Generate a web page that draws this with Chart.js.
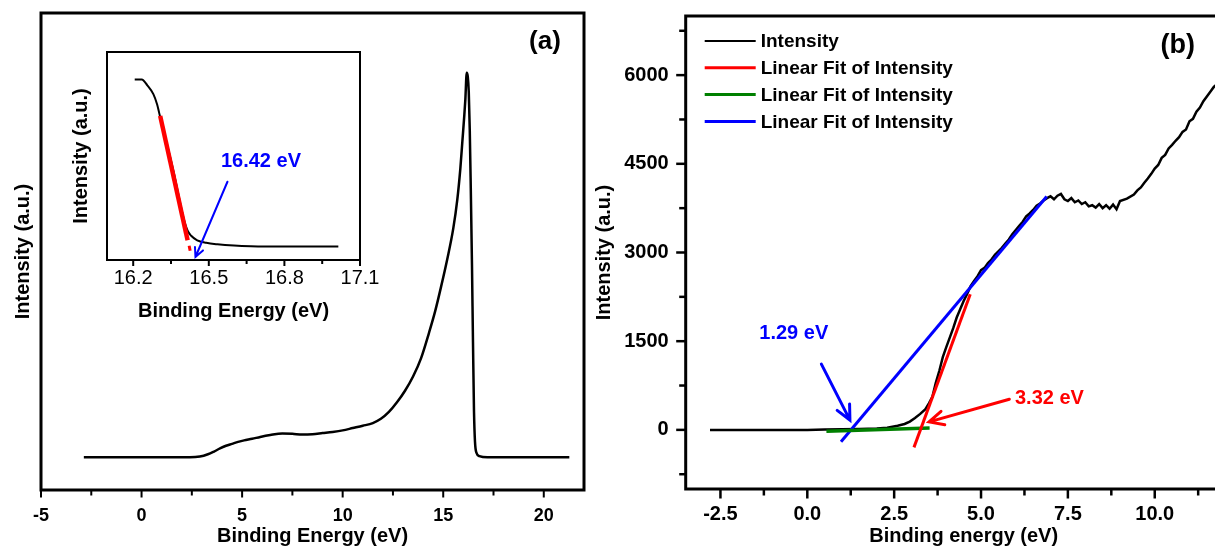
<!DOCTYPE html>
<html lang="en">
<head>
<meta charset="UTF-8">
<title>UPS spectra</title>
<script src="https://cdn.jsdelivr.net/npm/chart.js"></script>
<style>
  html, body { margin: 0; padding: 0; background: #fff; overflow: hidden; }
  #page { position: relative; width: 1215px; height: 548px; overflow: hidden; background: #fff; }
  canvas { position: absolute; }
</style>
</head>
<body>
<div id="page">
  <canvas id="chartA" width="600" height="548" style="left:0;top:0"></canvas>
  <canvas id="chartB" width="675" height="548" style="left:585px;top:0"></canvas>
  <canvas id="inset" width="320" height="285" style="left:60px;top:40px"></canvas>
</div>
<script>
// ---- panel (a): full spectrum ----
const aEnergy = [-2.87, -1, 1, 2.4, 2.9, 3.3, 3.6, 3.9, 4.2, 4.5, 4.8, 5.1, 5.5, 5.9, 6.4, 7.0, 7.5, 8.0, 8.5, 9.0, 9.5, 10.0,
  10.5, 11.0, 11.5, 11.9, 12.3, 12.7, 13.1, 13.5, 13.9, 14.3, 14.6, 14.9, 15.2, 15.5, 15.7, 15.85, 15.95, 16.05, 16.1,
  16.17, 16.22, 16.27, 16.32, 16.37, 16.43, 16.48, 16.53, 16.58, 16.65, 16.8, 17.2, 19, 21.27];
const aIntensity = [0, 0, 0, 0, 0.2, 0.8, 1.5, 2.3, 3.0, 3.5, 4.0, 4.4, 4.8, 5.3, 5.8, 6.2, 6.1, 5.9, 6.0, 6.3, 6.6, 7.0,
  7.6, 8.2, 8.9, 10.0, 11.8, 14.3, 17.3, 21.0, 25.8, 32.5, 38, 44.5, 51.5, 59.5, 67, 75, 82, 89, 93,
  100, 99, 95, 85, 70, 50, 30, 12, 4, 1.2, 0.3, 0, 0, 0];
const aMajorX = [-5, 0, 5, 10, 15, 20];
const aMinorX = [-2.5, 2.5, 7.5, 12.5, 17.5];

// ---- inset: cut-off edge ----
const insetEnergy = [16.206, 16.234, 16.256, 16.28, 16.295, 16.303, 16.36, 16.40, 16.416, 16.43, 16.454, 16.49, 16.534, 16.6, 16.667, 16.8, 17.014];
const insetIntensity = [100, 100, 96.5, 91.2, 85, 80, 45, 17, 9.5, 6.5, 3.8, 2.3, 1.4, 0.6, 0.2, 0, 0];
const insetFitEnergy = [16.307, 16.416];
const insetFitIntensity = [78.2, 3.8];
const insetDotEnergy = [16.422, 16.426];
const insetDotIntensity = [0.5, -2.5];
const insetMajorX = [16.2, 16.5, 16.8, 17.1];
const insetMinorX = [16.35, 16.65, 16.95];

// ---- panel (b): valence band ----
const bEnergy = [-2.8, -2, -1, 0, 0.5, 1, 1.5, 2, 2.3, 2.6, 2.8, 2.95, 3.1, 3.25, 3.4, 3.5, 3.6, 3.7, 3.8, 3.9,
  4.0, 4.1, 4.2, 4.3, 4.4, 4.5, 4.6, 4.7, 4.8, 4.9, 5.0, 5.1, 5.2, 5.3, 5.4, 5.5, 5.6, 5.7, 5.8, 5.9,
  6.0, 6.1, 6.2, 6.3, 6.4, 6.5, 6.6, 6.7, 6.8, 6.9, 7.0, 7.1, 7.2, 7.3, 7.4, 7.5, 7.6, 7.7, 7.8, 7.9,
  8.0, 8.1, 8.2, 8.3, 8.4, 8.5, 8.6, 8.7, 8.8, 8.9, 9.0, 9.2, 9.4, 9.5, 9.6, 9.7, 9.8, 9.9,
  10.0, 10.1, 10.2, 10.3, 10.4, 10.5, 10.6, 10.7, 10.8, 10.9, 11.0, 11.1, 11.2, 11.3, 11.4, 11.5, 11.6, 11.7, 11.8, 12.0];
const bIntensity = [0, 0, 0, 0, 5, 10, 15, 25, 35, 70, 100, 140, 200, 270, 350, 450, 560, 800, 1000, 1230,
  1400, 1560, 1720, 1900, 2040, 2180, 2300, 2430, 2520, 2600, 2700, 2740, 2820, 2880, 2960, 3020, 3080, 3150, 3220, 3310,
  3380, 3450, 3520, 3610, 3660, 3720, 3790, 3830, 3880, 3920, 3950, 3900, 3960, 3990, 3900, 3870, 3920, 3850, 3880, 3820,
  3850, 3780, 3800, 3760, 3820, 3750, 3800, 3740, 3810, 3730, 3870, 3910, 3980, 4050, 4100, 4180, 4250, 4330,
  4420, 4480, 4600, 4650, 4760, 4820, 4890, 4950, 5040, 5080, 5220, 5260, 5380, 5450, 5560, 5640, 5720, 5800, 5850, 5950];
const redFitEnergy = [3.07, 4.69];
const redFitIntensity = [-296, 2293];
const greenFitEnergy = [0.55, 3.52];
const greenFitIntensity = [-25, 32];
const blueFitEnergy = [0.97, 6.89];
const blueFitIntensity = [-201, 3948];
const bMajorX = [-2.5, 0, 2.5, 5, 7.5, 10, 12.5];
const bMinorX = [-1.25, 1.25, 3.75, 6.25, 8.75, 11.25];
const bMajorY = [0, 1500, 3000, 4500, 6000];
const bMinorY = [-750, 750, 2250, 3750, 5250, 6750];
const legendLabels = ['Intensity', 'Linear Fit of Intensity', 'Linear Fit of Intensity', 'Linear Fit of Intensity'];
const legendColors = ['#000000', '#ff0000', '#008000', '#0000ff'];

const FONT = '"Liberation Sans", Arial, sans-serif';
Chart.defaults.font.family = FONT;
Chart.defaults.color = '#000';

function toPoints(xs, ys) {
  return xs.map((x, i) => ({ x: x, y: ys[i] }));
}
function isIn(list, v) {
  return list.some(m => Math.abs(m - v) < 1e-6);
}
function mergeTicks(major, minor) {
  return major.concat(minor).sort((p, q) => p - q).map(v => ({ value: v }));
}
// fixed axis size, no label overhang padding
function fixW(w) {
  return s => { s.width = w; s.paddingTop = 0; s.paddingBottom = 0; s.paddingLeft = 0; s.paddingRight = 0; };
}
function fixH(h) {
  return s => { s.height = h; s.paddingTop = 0; s.paddingBottom = 0; s.paddingLeft = 0; s.paddingRight = 0; };
}

function arrow(ctx, x1, y1, x2, y2, color, lw, head) {
  const ang = Math.atan2(y2 - y1, x2 - x1);
  ctx.strokeStyle = color;
  ctx.lineWidth = lw;
  ctx.lineCap = 'round';
  ctx.beginPath();
  ctx.moveTo(x1, y1);
  ctx.lineTo(x2, y2);
  ctx.moveTo(x2 - head * Math.cos(ang - 0.45), y2 - head * Math.sin(ang - 0.45));
  ctx.lineTo(x2, y2);
  ctx.lineTo(x2 - head * Math.cos(ang + 0.45), y2 - head * Math.sin(ang + 0.45));
  ctx.stroke();
}

// frame box, outward tick marks, arrows and labels
function decor(cfg) {
  return {
    id: 'decor',
    afterDraw(chart) {
      const { ctx, chartArea: a } = chart;
      const sx = chart.scales.x, sy = chart.scales.y;
      ctx.save();
      ctx.strokeStyle = '#000';
      ctx.lineWidth = cfg.tickWidth;
      sx.ticks.forEach(t => {
        const px = sx.getPixelForValue(t.value);
        const len = t.label !== '' ? cfg.majorLen : cfg.minorLen;
        ctx.beginPath();
        ctx.moveTo(px, a.bottom);
        ctx.lineTo(px, a.bottom + cfg.frame / 2 + len);
        ctx.stroke();
      });
      if (cfg.yTicks) {
        sy.ticks.forEach(t => {
          const py = sy.getPixelForValue(t.value);
          const len = t.label !== '' ? cfg.majorLen : cfg.minorLen;
          ctx.beginPath();
          ctx.moveTo(a.left, py);
          ctx.lineTo(a.left - cfg.frame / 2 - len, py);
          ctx.stroke();
        });
      }
      ctx.lineWidth = cfg.frame;
      ctx.lineCap = 'square';
      ctx.strokeRect(a.left, a.top, a.right - a.left, a.bottom - a.top);

      (cfg.arrows || []).forEach(r => {
        arrow(ctx, sx.getPixelForValue(r.x1), sy.getPixelForValue(r.y1),
          sx.getPixelForValue(r.x2), sy.getPixelForValue(r.y2), r.color, r.width, r.head);
      });
      ctx.textAlign = 'center';
      ctx.textBaseline = 'middle';
      (cfg.notes || []).forEach(n => {
        ctx.fillStyle = n.color;
        ctx.font = n.font;
        ctx.fillText(n.text, sx.getPixelForValue(n.x), sy.getPixelForValue(n.y));
      });
      (cfg.tags || []).forEach(n => {
        ctx.fillStyle = '#000';
        ctx.font = n.font;
        ctx.fillText(n.text, n.right ? a.right - n.dx : a.left + n.dx, a.top + n.dy);
      });
      if (cfg.legend) {
        ctx.textAlign = 'left';
        ctx.font = 'bold 19px ' + FONT;
        legendLabels.forEach((lab, i) => {
          const y = a.top + 25 + i * 26.8;
          ctx.strokeStyle = legendColors[i];
          ctx.lineWidth = i === 0 ? 2 : 3;
          ctx.lineCap = 'butt';
          ctx.beginPath();
          ctx.moveTo(a.left + 19, y);
          ctx.lineTo(a.left + 70, y);
          ctx.stroke();
          ctx.fillStyle = '#000';
          ctx.fillText(lab, a.left + 75, y + 1);
        });
      }
      ctx.restore();
    }
  };
}

const noGrid = { display: false, drawTicks: false };

// ---------- panel (a) ----------
new Chart(document.getElementById('chartA'), {
  type: 'line',
  data: {
    datasets: [{
      data: toPoints(aEnergy, aIntensity),
      borderColor: '#000', borderWidth: 2.5, pointRadius: 0,
      cubicInterpolationMode: 'monotone'
    }]
  },
  options: {
    responsive: false, animation: false, events: [],
    layout: { padding: { left: 0, top: 13, right: 16, bottom: 0 } },
    plugins: { legend: { display: false }, tooltip: { enabled: false } },
    scales: {
      x: {
        type: 'linear', min: -5, max: 22,
        grid: noGrid, border: { display: false },
        afterBuildTicks: s => { s.ticks = mergeTicks(aMajorX, aMinorX); },
        afterFit: fixH(58),
        ticks: {
          autoSkip: false, maxRotation: 0, padding: 15,
          font: { size: 18, weight: 'bold' },
          callback: v => isIn(aMajorX, v) ? String(v) : ''
        },
        title: { display: true, text: 'Binding Energy (eV)', font: { size: 20, weight: 'bold' }, padding: { top: 0, bottom: 0 } }
      },
      y: {
        type: 'linear', min: -8.5, max: 115.5,
        grid: noGrid, border: { display: false },
        ticks: { display: false },
        afterFit: fixW(41),
        title: { display: true, text: 'Intensity (a.u.)', font: { size: 20, weight: 'bold' }, padding: { top: 11, bottom: 0 } }
      }
    }
  },
  plugins: [decor({
    frame: 3, tickWidth: 2, majorLen: 6, minorLen: 4, yTicks: false,
    tags: [{ text: '(a)', font: 'bold 26px ' + FONT, right: true, dx: 39, dy: 29 }]
  })]
});

// ---------- inset ----------
new Chart(document.getElementById('inset'), {
  type: 'line',
  data: {
    datasets: [
      { data: toPoints(insetFitEnergy, insetFitIntensity), borderColor: '#ff0000', borderWidth: 4.5, pointRadius: 0 },
      { data: toPoints(insetDotEnergy, insetDotIntensity), borderColor: '#ff0000', borderWidth: 3, pointRadius: 0 },
      { data: toPoints(insetEnergy, insetIntensity), borderColor: '#000', borderWidth: 2, pointRadius: 0,
        cubicInterpolationMode: 'monotone', order: 5 }
    ]
  },
  options: {
    responsive: false, animation: false, events: [],
    layout: { padding: { left: 0, top: 12, right: 20, bottom: 0 } },
    plugins: { legend: { display: false }, tooltip: { enabled: false } },
    scales: {
      x: {
        type: 'linear', min: 16.096, max: 17.1,
        grid: noGrid, border: { display: false },
        afterBuildTicks: s => { s.ticks = mergeTicks(insetMajorX, insetMinorX); },
        afterFit: fixH(65),
        ticks: {
          autoSkip: false, maxRotation: 0, padding: 6,
          font: { size: 20 },
          callback: v => isIn(insetMajorX, v) ? v.toFixed(1) : ''
        },
        title: { display: true, text: 'Binding Energy (eV)', font: { size: 20, weight: 'bold' }, padding: { top: 0, bottom: 2 } }
      },
      y: {
        type: 'linear', min: -8, max: 116.4,
        grid: noGrid, border: { display: false },
        ticks: { display: false },
        afterFit: fixW(47),
        title: { display: true, text: 'Intensity (a.u.)', font: { size: 20, weight: 'bold' }, padding: { top: 9.5, bottom: 0 } }
      }
    }
  },
  plugins: [decor({
    frame: 2, tickWidth: 2, majorLen: 5, minorLen: 3, yTicks: false,
    arrows: [{ x1: 16.574, y1: 38.8, x2: 16.447, y2: -6.2, color: '#0000ff', width: 2, head: 10 }],
    notes: [{ text: '16.42 eV', x: 16.707, y: 50.8, color: '#0000ff', font: 'bold 20px ' + FONT }]
  })]
});

// ---------- panel (b) ----------
new Chart(document.getElementById('chartB'), {
  type: 'line',
  data: {
    datasets: [
      { label: legendLabels[0], data: toPoints(bEnergy, bIntensity), borderColor: '#000', borderWidth: 2.5,
        pointRadius: 0, order: 5 },
      { label: legendLabels[1], data: toPoints(redFitEnergy, redFitIntensity), borderColor: '#ff0000', borderWidth: 3, pointRadius: 0 },
      { label: legendLabels[2], data: toPoints(greenFitEnergy, greenFitIntensity), borderColor: '#008000', borderWidth: 3.5, pointRadius: 0 },
      { label: legendLabels[3], data: toPoints(blueFitEnergy, blueFitIntensity), borderColor: '#0000ff', borderWidth: 3, pointRadius: 0 }
    ]
  },
  options: {
    responsive: false, animation: false, events: [],
    layout: { padding: { left: 0, top: 16, right: 18.4, bottom: 0 } },
    plugins: { legend: { display: false }, tooltip: { enabled: false } },
    scales: {
      x: {
        type: 'linear', min: -3.5, max: 12.5,
        grid: noGrid, border: { display: false },
        afterBuildTicks: s => { s.ticks = mergeTicks(bMajorX, bMinorX); },
        afterFit: fixH(59),
        ticks: {
          autoSkip: false, maxRotation: 0, padding: 13,
          font: { size: 20, weight: 'bold' },
          callback: v => isIn(bMajorX, v) ? v.toFixed(1) : ''
        },
        title: { display: true, text: 'Binding energy (eV)', font: { size: 20, weight: 'bold' }, padding: { top: 0, bottom: 0 } }
      },
      y: {
        type: 'linear', min: -1000, max: 7000,
        grid: noGrid, border: { display: false },
        afterBuildTicks: s => { s.ticks = mergeTicks(bMajorY, bMinorY); },
        afterFit: fixW(100.7),
        ticks: {
          autoSkip: false, padding: 17,
          font: { size: 20, weight: 'bold' },
          callback: v => isIn(bMajorY, v) ? String(v) : ''
        },
        title: { display: true, text: 'Intensity (a.u.)', font: { size: 20, weight: 'bold' }, padding: { top: 7, bottom: 0 } }
      }
    }
  },
  plugins: [decor({
    frame: 3, tickWidth: 2.5, majorLen: 8, minorLen: 5, yTicks: true, legend: true,
    arrows: [
      { x1: 0.405, y1: 1111, x2: 1.227, y2: 166, color: '#0000ff', width: 3, head: 16 },
      { x1: 5.815, y1: 519, x2: 3.504, y2: 135, color: '#ff0000', width: 3, head: 16 }
    ],
    notes: [
      { text: '1.29 eV', x: -0.39, y: 1632, color: '#0000ff', font: 'bold 20px ' + FONT },
      { text: '3.32 eV', x: 6.97, y: 531, color: '#ff0000', font: 'bold 20px ' + FONT }
    ],
    tags: [{ text: '(b)', font: 'bold 27px ' + FONT, right: false, dx: 492, dy: 30 }]
  })]
});
</script>
</body>
</html>
